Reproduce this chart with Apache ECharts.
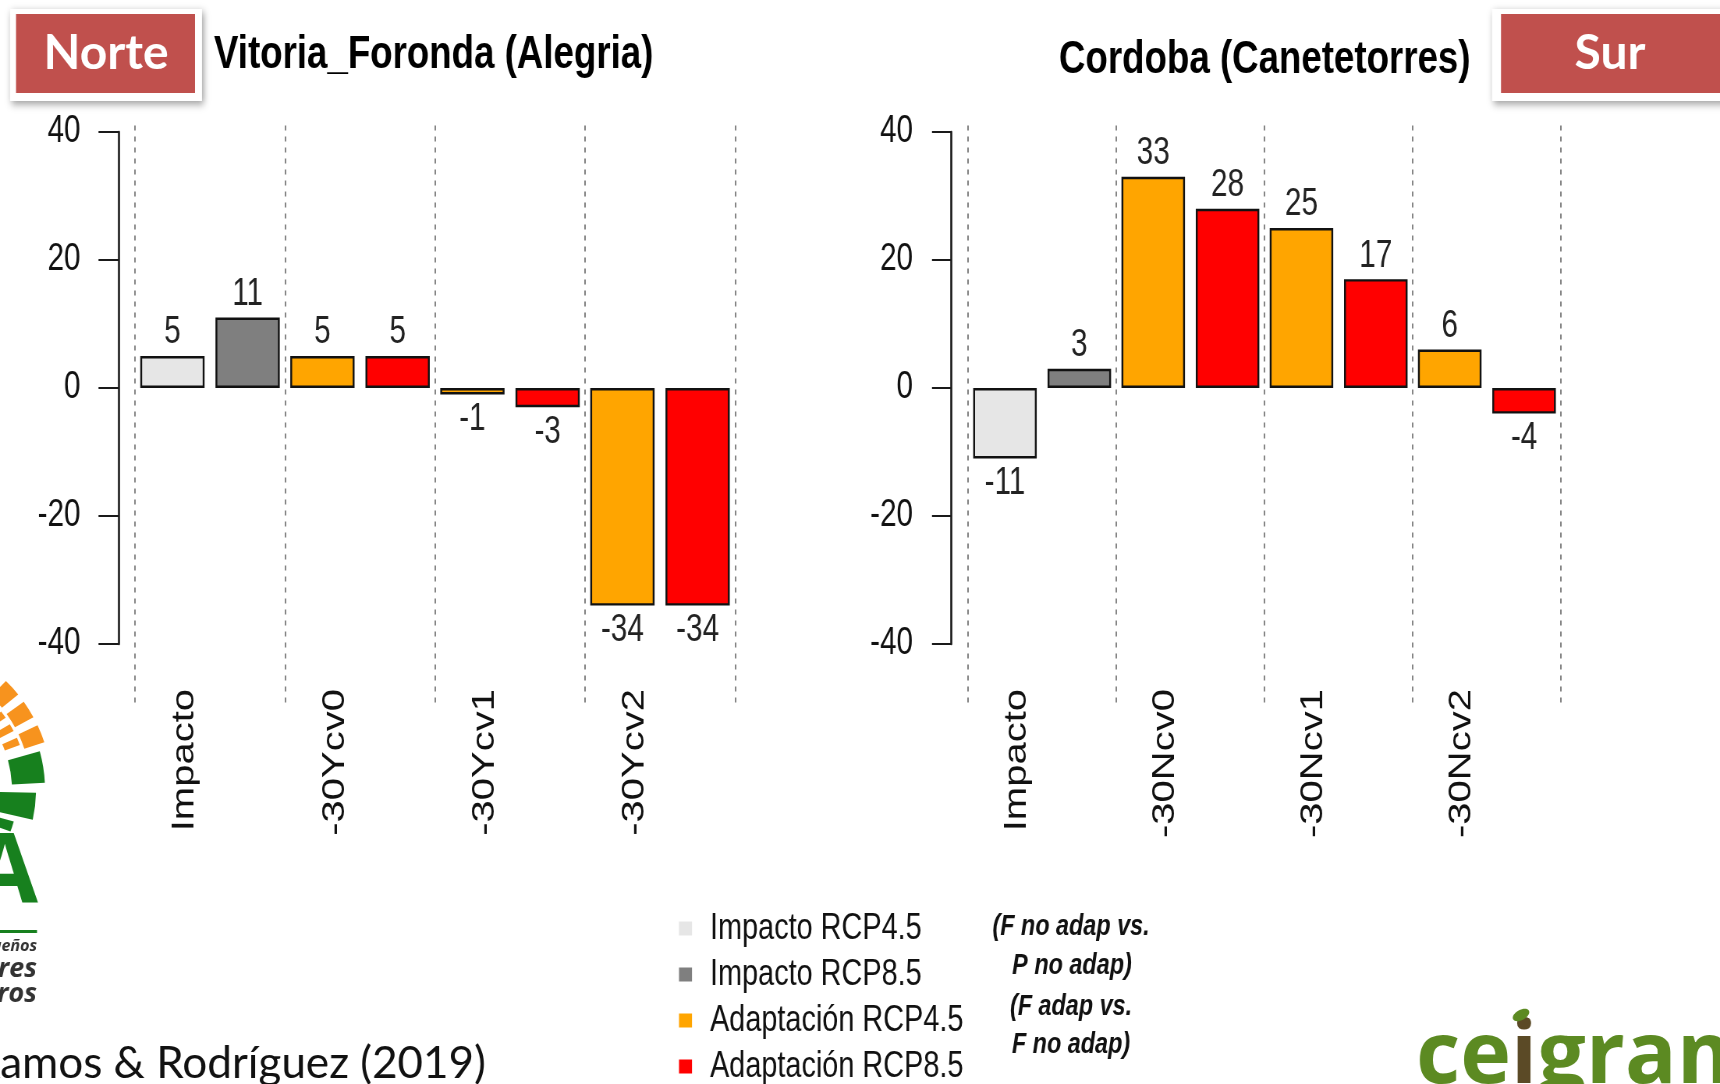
<!DOCTYPE html>
<html>
<head>
<meta charset="utf-8">
<script src="https://cdn.jsdelivr.net/npm/echarts@6/dist/echarts.min.js"></script>
<style>
  html, body { margin: 0; padding: 0; background: #fff; overflow: hidden; width: 1720px; height: 1084px; }
  /* the plot is laid out wide and set in condensed proportions */
  #chart { width: 2205px; height: 1084px; transform: scaleX(0.780045); transform-origin: 0 0; }
</style>
</head>
<body>
<div id="chart"></div>
<script>
// Yield change (%) by scenario, two stations
const seriesNames = ['Impacto RCP4.5', 'Impacto RCP8.5', 'Adaptación RCP4.5', 'Adaptación RCP8.5'];
const seriesColors = ['#E6E6E6', '#7F7F7F', '#FFA500', '#FF0000'];

const norteCategories = ['Impacto', '-30Ycv0', '-30Ycv1', '-30Ycv2'];
const norteRcp45 = [5, 5, -1, -34];
const norteRcp85 = [11, 5, -3, -34];

const surCategories = ['Impacto', '-30Ncv0', '-30Ncv1', '-30Ncv2'];
const surRcp45 = [-11, 33, 25, 6];
const surRcp85 = [3, 28, 17, -4];

const yTickMin = -40, yTickMax = 40, yTickStep = 20;
const plotMin = -50, plotMax = 41;

const S = 1720 / 2205;              // horizontal condensing of the drawing
const X = px => px / S;             // page x -> drawing x

const ARIAL = '"Liberation Sans", Arial, Helvetica, sans-serif';
const SLIDE = 'Lato, "Open Sans", sans-serif';

const chart = echarts.init(document.getElementById('chart'), null, { renderer: 'canvas' });

// panel geometry: the bar grid spans the full plot region (-50..41),
// the axis grid carries the visible y axis (-40..40) and the category labels
const panels = [
  { left: 135, width: 600, cats: norteCategories, v45: norteRcp45, v85: norteRcp85, key: 'n',
    yOffset: 16.5, tickLen: 20, labelGap: 18 },
  { left: 968, width: 593, cats: surCategories, v45: surRcp45, v85: surRcp85, key: 's',
    yOffset: 17, tickLen: 19, labelGap: 19 }
];
const pxPerUnit = 6.4;
const axisTop = 132, axisHeight = (yTickMax - yTickMin) * pxPerUnit;
const barTop = axisTop - (plotMax - yTickMax) * pxPerUnit;
const barHeight = (plotMax - plotMin) * pxPerUnit;

const grids = [], xAxes = [], yAxes = [], series = [];

function barData(values, impactGroup) {
  return values.map((v, i) => {
    if ((i === 0) !== impactGroup) return '-';
    return { value: v, label: { position: v < 0 ? 'bottom' : 'top', distance: v < 0 ? 6 : 4 } };
  });
}

panels.forEach(p => {
  const gBar = grids.length;
  grids.push({ left: X(p.left), width: X(p.width), top: barTop, height: barHeight });
  xAxes.push({
    type: 'category', gridIndex: gBar, data: p.cats, boundaryGap: true,
    axisLine: { show: false }, axisTick: { show: false }, axisLabel: { show: false },
    splitLine: { show: true, lineStyle: { color: '#858585', width: 2, type: [5, 6] } }
  });
  yAxes.push({
    type: 'value', gridIndex: gBar, min: plotMin, max: plotMax,
    show: false, splitLine: { show: false }
  });

  const gAxis = grids.length;
  grids.push({ left: X(p.left), width: X(p.width), top: axisTop, height: axisHeight });
  xAxes.push({
    type: 'category', gridIndex: gAxis, data: p.cats, boundaryGap: true,
    axisLine: { show: false }, axisTick: { show: false }, splitLine: { show: false },
    axisLabel: {
      rotate: 90, margin: 45, color: '#111', fontFamily: ARIAL, fontSize: 40,
      verticalAlign: 'bottom', lineHeight: 64
    }
  });
  yAxes.push({
    type: 'value', gridIndex: gAxis, min: yTickMin, max: yTickMax, interval: yTickStep,
    offset: X(p.yOffset),
    axisLine: { show: true, lineStyle: { color: '#1a1a1a', width: 2.6 } },
    axisTick: { show: true, length: X(p.tickLen), lineStyle: { color: '#1a1a1a', width: 2 } },
    axisLabel: { margin: X(p.tickLen + p.labelGap), color: '#111', fontFamily: ARIAL, fontSize: 38 },
    splitLine: { show: false }
  });

  const sets = [
    { name: seriesNames[0], vals: p.v45, impact: true, stack: p.key + '45', color: seriesColors[0] },
    { name: seriesNames[1], vals: p.v85, impact: true, stack: p.key + '85', color: seriesColors[1] },
    { name: seriesNames[2], vals: p.v45, impact: false, stack: p.key + '45', color: seriesColors[2] },
    { name: seriesNames[3], vals: p.v85, impact: false, stack: p.key + '85', color: seriesColors[3] }
  ];
  sets.forEach(s => {
    series.push({
      type: 'bar', name: s.name, xAxisIndex: gBar, yAxisIndex: gBar, stack: s.stack,
      barCategoryGap: '7%', barGap: '17%',
      data: barData(s.vals, s.impact),
      itemStyle: { color: s.color, borderColor: '#111', borderWidth: 2.4 },
      label: { show: true, color: '#222', fontFamily: ARIAL, fontSize: 38, formatter: '{c}' },
      emphasis: { disabled: true },
      animation: false
    });
  });
});

const noteFont = 'italic bold 30px ' + ARIAL;

const option = {
  backgroundColor: '#ffffff',
  animation: false,
  title: [
    { text: 'Vitoria_Foronda (Alegria)', left: X(214), top: 32, padding: 0,
      textStyle: { fontFamily: ARIAL, fontWeight: 'bold', fontSize: 47, color: '#000' } },
    { text: 'Cordoba (Canetetorres)', left: X(1059), top: 37, padding: 0,
      textStyle: { fontFamily: ARIAL, fontWeight: 'bold', fontSize: 47, color: '#000' } }
  ],
  legend: {
    orient: 'vertical', left: X(679), top: 910, padding: 0, height: 230,
    itemWidth: X(13), itemHeight: 14, itemGap: 9, icon: 'rect',
    selectedMode: false,
    data: seriesNames,
    itemStyle: { borderWidth: 0 },
    textStyle: { fontFamily: ARIAL, fontSize: 37, color: '#111', padding: [0, 0, 0, 18] }
  },
  grid: grids,
  xAxis: xAxes,
  yAxis: yAxes,
  series: series,
  graphic: [
    // comparison notes beside the legend
    { type: 'text', x: X(1071), y: 927, style: { text: '(F no adap vs.', fill: '#111', font: noteFont, align: 'center', verticalAlign: 'middle' } },
    { type: 'text', x: X(1072), y: 966, style: { text: 'P no adap)', fill: '#111', font: noteFont, align: 'center', verticalAlign: 'middle' } },
    { type: 'text', x: X(1071), y: 1007, style: { text: '(F adap vs.', fill: '#111', font: noteFont, align: 'center', verticalAlign: 'middle' } },
    { type: 'text', x: X(1071), y: 1045, style: { text: 'F no adap)', fill: '#111', font: noteFont, align: 'center', verticalAlign: 'middle' } },

    // slide furniture, drawn in page proportions
    {
      type: 'group', x: 0, y: 0, scaleX: 1 / S, scaleY: 1,
      children: [
        { type: 'rect', shape: { x: 10, y: 9, width: 192, height: 92 },
          style: { fill: '#fff', shadowBlur: 8, shadowOffsetX: 2, shadowOffsetY: 3, shadowColor: 'rgba(0,0,0,0.4)' } },
        { type: 'rect', shape: { x: 16, y: 14, width: 179, height: 79 }, style: { fill: '#C0504D' } },
        { type: 'text', x: 106, y: 54, style: { text: 'Norte', fill: '#fff', font: 'bold 48px ' + SLIDE, align: 'center', verticalAlign: 'middle' } },
        { type: 'rect', shape: { x: 1492, y: 9, width: 240, height: 92 },
          style: { fill: '#fff', shadowBlur: 8, shadowOffsetX: 2, shadowOffsetY: 3, shadowColor: 'rgba(0,0,0,0.4)' } },
        { type: 'rect', shape: { x: 1501, y: 14, width: 230, height: 79 }, style: { fill: '#C0504D' } },
        { type: 'text', x: 1610, y: 54, style: { text: 'Sur', fill: '#fff', font: 'bold 48px ' + SLIDE, align: 'center', verticalAlign: 'middle' } },

        // source
        { type: 'text', x: -27, y: 1064, style: { text: 'Ramos & Rodríguez (2019)', fill: '#111', font: '44px ' + SLIDE, align: 'left', verticalAlign: 'middle' } },

        // UPA logo (left edge)
        { type: 'sector', shape: { cx: -100, cy: 790, r0: 112, r: 128, startAngle: -1.02, endAngle: -0.96 }, style: { fill: '#F7931E' } },
        { type: 'sector', shape: { cx: -100, cy: 790, r0: 112, r: 128, startAngle: -0.90, endAngle: -0.84 }, style: { fill: '#F7931E' } },
        { type: 'sector', shape: { cx: -100, cy: 790, r0: 112, r: 128, startAngle: -0.78, endAngle: -0.72 }, style: { fill: '#F7931E' } },
        { type: 'sector', shape: { cx: -100, cy: 790, r0: 112, r: 128, startAngle: -0.66, endAngle: -0.60 }, style: { fill: '#F7931E' } },
        { type: 'sector', shape: { cx: -100, cy: 790, r0: 112, r: 128, startAngle: -0.54, endAngle: -0.48 }, style: { fill: '#F7931E' } },
        { type: 'sector', shape: { cx: -100, cy: 790, r0: 112, r: 128, startAngle: -0.42, endAngle: -0.36 }, style: { fill: '#F7931E' } },
        { type: 'sector', shape: { cx: -100, cy: 790, r0: 131, r: 152, startAngle: -0.98, endAngle: -0.86 }, style: { fill: '#F7931E' } },
        { type: 'sector', shape: { cx: -100, cy: 790, r0: 131, r: 152, startAngle: -0.80, endAngle: -0.68 }, style: { fill: '#F7931E' } },
        { type: 'sector', shape: { cx: -100, cy: 790, r0: 131, r: 152, startAngle: -0.62, endAngle: -0.50 }, style: { fill: '#F7931E' } },
        { type: 'sector', shape: { cx: -100, cy: 790, r0: 131, r: 152, startAngle: -0.44, endAngle: -0.32 }, style: { fill: '#F7931E' } },
        { type: 'sector', shape: { cx: -100, cy: 790, r0: 112, r: 145, startAngle: -0.27, endAngle: -0.05 }, style: { fill: '#17801E' } },
        { type: 'sector', shape: { cx: -100, cy: 790, r0: 100, r: 136, startAngle: 0.02, endAngle: 0.22 }, style: { fill: '#17801E' } },
        { type: 'sector', shape: { cx: -100, cy: 790, r0: 98, r: 118, startAngle: 0.27, endAngle: 0.36 }, style: { fill: '#17801E' } },
        { type: 'text', x: 38, y: 876, style: { text: 'UPA', fill: '#17801E', font: 'bold 96px "Open Sans", sans-serif', align: 'right', verticalAlign: 'middle' } },
        { type: 'rect', shape: { x: 0, y: 930, width: 37, height: 3 }, style: { fill: '#17801E' } },
        { type: 'text', x: 37, y: 946, style: { text: 'Pequeños', fill: '#333', font: 'italic bold 16px "Open Sans", sans-serif', align: 'right', verticalAlign: 'middle' } },
        { type: 'text', x: 37, y: 969, style: { text: 'Agricultores', fill: '#333', font: 'italic bold 27px "Open Sans", sans-serif', align: 'right', verticalAlign: 'middle' } },
        { type: 'text', x: 37, y: 994, style: { text: 'y Ganaderos', fill: '#333', font: 'italic bold 27px "Open Sans", sans-serif', align: 'right', verticalAlign: 'middle' } },

        // CEIGRAM logo (bottom-right)
        { type: 'text', x: 1416, y: 1058, style: {
            text: '{g|ce}{t|i}{g|gram}', align: 'left', verticalAlign: 'middle',
            rich: {
              g: { fill: '#5C8A22', font: 'bold 86px "Open Sans", sans-serif' },
              t: { fill: '#5B4A26', font: 'bold 86px "Open Sans", sans-serif' }
            } } },
        { type: 'ellipse', shape: { cx: 1521, cy: 1015, rx: 9, ry: 5 }, rotation: 0.5, originX: 1521, originY: 1015, style: { fill: '#5C8A22' } }
      ]
    }
  ]
};

chart.setOption(option);
</script>
</body>
</html>
